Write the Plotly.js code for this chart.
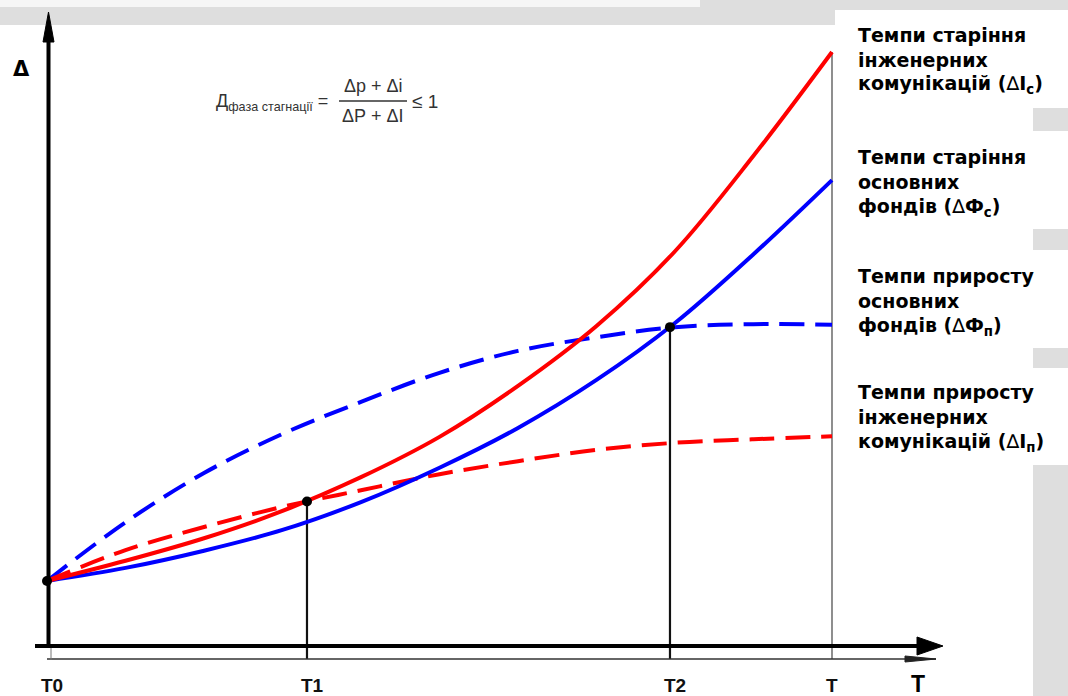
<!DOCTYPE html>
<html>
<head>
<meta charset="utf-8">
<script src="https://cdn.plot.ly/plotly-3.0.1.min.js"></script>
<style>html,body{margin:0;padding:0;background:#fff;}#chart{width:1068px;height:696px;}</style>
</head>
<body>
<div id="chart"></div>
<script>
// ---- Data (arbitrary units: time T0=0 ... T=10, index Δ 0 ... 10) ----
const tUnits = [0, 1, 2, 3, 4, 5, 6, 7, 8, 9, 10];
const agingEng   = [1.08, 1.42, 1.80, 2.26, 2.83, 3.51, 4.37, 5.38, 6.64, 8.25, 10.0];  // ΔIс  (solid red)
const agingFund  = [1.08, 1.30, 1.59, 1.94, 2.41, 2.99, 3.66, 4.47, 5.43, 6.59, 7.84];  // ΔФс  (solid blue)
const growthFund = [1.08, 2.07, 2.90, 3.56, 4.10, 4.59, 4.96, 5.19, 5.36, 5.41, 5.40];  // ΔФп  (dashed blue)
const growthEng  = [1.08, 1.60, 1.99, 2.33, 2.61, 2.88, 3.10, 3.29, 3.41, 3.47, 3.52];  // ΔIп  (dashed red)
const keyT = [0, 3.312, 7.936];
const keyV = [1.08, 2.42, 5.36];
const tickVals = [0, 3.312, 7.936, 10];
const tickLabels = ["T0", "T1", "T2", "T"];
const tickTops = [1.08, 2.42, 5.36, 10.0];
const legendBlocks = [
  ["Темпи старіння", "інженерних", "комунікацій ", "(", "∆", "I", "с", ")"],
  ["Темпи старіння", "основних", "фондів ", "(", "∆", "Ф", "с", ")"],
  ["Темпи приросту", "основних", "фондів ", "(", "∆", "Ф", "п", ")"],
  ["Темпи приросту", "інженерних", "комунікацій ", "(", "∆", "I", "п", ")"]
];

// ---- geometry helpers (decoration only) ----
const W = 1068, H = 696;
const px = x => x / W;
const py = y => 1 - y / H;
const xScale = 78.5, yScale = 59.3, x0 = 47, y0 = 645;
const xRange = [-x0 / xScale, (W - x0) / xScale];
const yRange = [(y0 - H) / yScale, y0 / yScale];
const baseV = (y0 - 659) / yScale;

const RED = '#ff0000', BLUE = '#0000ff';
const spl = {shape: 'spline', smoothing: 1};
const traces = [
  {x: tUnits, y: growthFund, mode: 'lines', line: Object.assign({color: BLUE, width: 4, dash: '25px,11px'}, spl)},
  {x: tUnits, y: growthEng, mode: 'lines', line: Object.assign({color: RED, width: 4, dash: '25px,11px'}, spl)},
  {x: tUnits, y: agingFund, mode: 'lines', line: Object.assign({color: BLUE, width: 4}, spl)},
  {x: tUnits, y: agingEng, mode: 'lines', line: Object.assign({color: RED, width: 4}, spl)},
  {x: keyT, y: keyV, mode: 'markers', marker: {color: '#000', size: 10}}
];

const GRAY = '#dedede';
const shapes = [
  // background artefacts
  {type: 'rect', xref: 'paper', yref: 'paper', x0: px(0), x1: px(W), y0: py(0), y1: py(25), fillcolor: GRAY, line: {width: 0}, layer: 'below'},
  {type: 'rect', xref: 'paper', yref: 'paper', x0: px(0), x1: px(700), y0: py(0), y1: py(7), fillcolor: '#f6f6f6', line: {width: 0}, layer: 'below'},
  {type: 'rect', xref: 'paper', yref: 'paper', x0: px(835), x1: px(W), y0: py(10), y1: py(H), fillcolor: '#ffffff', line: {width: 0}, layer: 'below'},
  {type: 'rect', xref: 'paper', yref: 'paper', x0: px(1033), x1: px(W), y0: py(108), y1: py(131), fillcolor: GRAY, line: {width: 0}, layer: 'below'},
  {type: 'rect', xref: 'paper', yref: 'paper', x0: px(1033), x1: px(W), y0: py(229), y1: py(250), fillcolor: GRAY, line: {width: 0}, layer: 'below'},
  {type: 'rect', xref: 'paper', yref: 'paper', x0: px(1033), x1: px(W), y0: py(348), y1: py(368), fillcolor: GRAY, line: {width: 0}, layer: 'below'},
  {type: 'rect', xref: 'paper', yref: 'paper', x0: px(1033), x1: px(W), y0: py(465), y1: py(H), fillcolor: GRAY, line: {width: 0}, layer: 'below'},
  // thin base line with small arrow
  {type: 'line', xref: 'paper', yref: 'paper', x0: px(47), x1: px(936), y0: py(659), y1: py(659), line: {color: '#333', width: 1.3}},
  {type: 'path', xref: 'paper', yref: 'paper', path: `M ${px(936)},${py(659)} L ${px(905)},${py(656)} L ${px(905)},${py(662)} Z`, fillcolor: '#222', line: {color: '#222', width: 1}},
  // y axis
  {type: 'line', xref: 'paper', yref: 'paper', x0: px(51), x1: px(51), y0: py(645), y1: py(660), line: {color: '#777', width: 1}},
  {type: 'line', xref: 'paper', yref: 'paper', x0: px(48.5), x1: px(48.5), y0: py(648), y1: py(38), line: {color: '#000', width: 4}},
  {type: 'path', xref: 'paper', yref: 'paper', path: `M ${px(48.5)},${py(12)} L ${px(54)},${py(42)} L ${px(43)},${py(42)} Z`, fillcolor: '#000', line: {color: '#000', width: 1}},
  // x axis
  {type: 'line', xref: 'paper', yref: 'paper', x0: px(35), x1: px(920), y0: py(646), y1: py(646), line: {color: '#000', width: 4}},
  {type: 'path', xref: 'paper', yref: 'paper', path: `M ${px(943)},${py(646)} L ${px(917)},${py(637)} L ${px(917)},${py(655)} Z`, fillcolor: '#000', line: {color: '#000', width: 1}},
  // formula fraction bar
  {type: 'line', xref: 'paper', yref: 'paper', x0: px(339), x1: px(407), y0: py(101), y1: py(101), line: {color: '#333', width: 1.4}}
];
// vertical guide lines at T1, T2, T
for (let i = 1; i < tickVals.length; i++) {
  shapes.push({type: 'line', xref: 'x', yref: 'y', x0: tickVals[i], x1: tickVals[i], y0: baseV, y1: tickTops[i],
    line: {color: i === 3 ? '#444' : '#111', width: i === 3 ? 1.2 : 2.2}, layer: 'below'});
}

const annotations = [];
const tickFont = {family: 'Liberation Sans Narrow, Liberation Sans, sans-serif', size: 19, color: '#111', weight: 'bold'};
tickLabels.forEach((lab, i) => {
  annotations.push({x: tickVals[i], y: (y0 - 685) / yScale, xref: 'x', yref: 'y', text: lab, showarrow: false,
    xanchor: i === 3 ? 'center' : 'left', xshift: i === 3 ? 0 : -8, yanchor: 'middle', font: tickFont});
});
annotations.push({x: px(918), y: py(684), xref: 'paper', yref: 'paper', text: 'T', showarrow: false, xanchor: 'center', yanchor: 'middle',
  font: {family: 'Liberation Sans Narrow, Liberation Sans, sans-serif', size: 23, color: '#000', weight: 'bold'}});
annotations.push({x: px(22), y: py(69), xref: 'paper', yref: 'paper', text: 'Δ', showarrow: false, xanchor: 'center', yanchor: 'middle',
  font: {family: 'DejaVu Sans', size: 21, color: '#000', weight: 'bold'}});
// formula
const fFont = {family: 'Liberation Sans, Arial, sans-serif', size: 18, color: '#333'};
annotations.push({x: px(214), y: py(102), xref: 'paper', yref: 'paper', text: 'Д<sub>фаза стагнації</sub> =', showarrow: false,
  xanchor: 'left', yanchor: 'middle', font: {family: 'Liberation Sans, Arial, sans-serif', size: 18, color: '#333'}});
annotations.push({x: px(373), y: py(86), xref: 'paper', yref: 'paper', text: 'Δр + Δі', showarrow: false, xanchor: 'center', yanchor: 'middle', font: fFont});
annotations.push({x: px(373), y: py(116), xref: 'paper', yref: 'paper', text: 'ΔР + ΔІ', showarrow: false, xanchor: 'center', yanchor: 'middle', font: fFont});
annotations.push({x: px(410), y: py(101), xref: 'paper', yref: 'paper', text: '≤ 1', showarrow: false, xanchor: 'left', yanchor: 'middle',
  font: {family: 'Liberation Sans, Arial, sans-serif', size: 19, color: '#333'}});
// right-hand legend text
const legTops = [35, 157, 276, 392];
const legFont = {family: 'DejaVu Sans, sans-serif', size: 19, color: '#000'};
legendBlocks.forEach((b, k) => {
  const lines = [
    '<b>' + b[0] + '</b>',
    '<b>' + b[1] + '</b>',
    '<b>' + b[2] + b[3] + '</b>' + b[4] + '<b>' + b[5] + '<sub>' + b[6] + '</sub>' + b[7] + '</b>'
  ];
  lines.forEach((t, j) => {
    annotations.push({x: px(856), y: py(legTops[k] + 25 * j), xref: 'paper', yref: 'paper', text: t, showarrow: false,
      xanchor: 'left', yanchor: 'middle', font: legFont});
  });
});

const layout = {
  width: W, height: H,
  margin: {l: 0, r: 0, t: 0, b: 0},
  paper_bgcolor: '#ffffff', plot_bgcolor: 'rgba(0,0,0,0)',
  showlegend: false,
  xaxis: {range: xRange, visible: false, fixedrange: true},
  yaxis: {range: yRange, visible: false, fixedrange: true},
  shapes: shapes,
  annotations: annotations
};
Plotly.newPlot('chart', traces, layout, {displayModeBar: false, staticPlot: true});
</script>
</body>
</html>
